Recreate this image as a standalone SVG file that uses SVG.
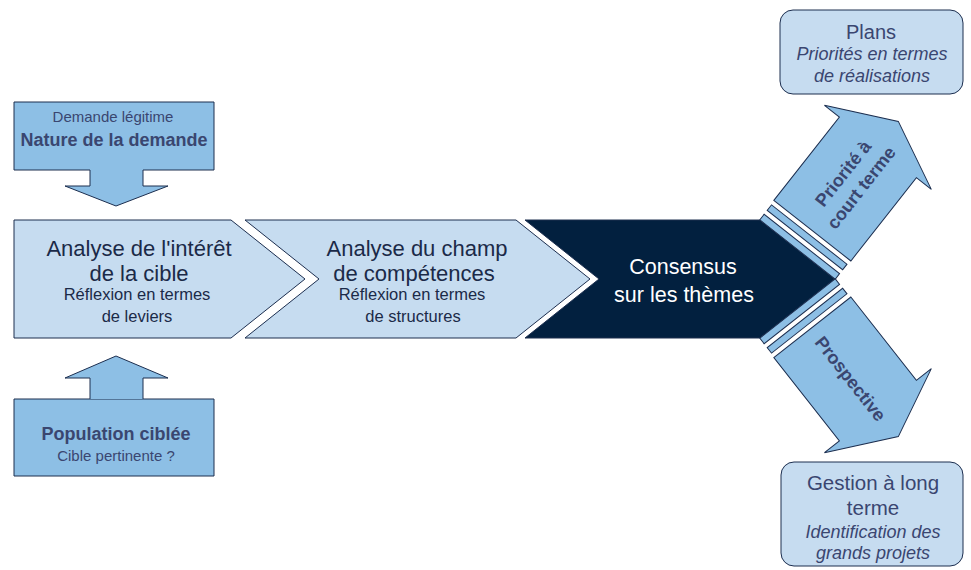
<svg xmlns="http://www.w3.org/2000/svg" width="971" height="570" viewBox="0 0 971 570">
<style>
.mid{fill:#8dbfe5;stroke:#1c2e4f;stroke-width:1}
.lite{fill:#c6dcf0;stroke:#1c2e4f;stroke-width:1}
.dark{fill:#02203f;stroke:#1c2e4f;stroke-width:1}
text{font-family:"Liberation Sans",Arial,sans-serif;text-anchor:middle}
.ct{fill:#3a4670}
.ch{fill:#1b2a48}
.w{fill:#ffffff}
.b{font-weight:bold}
.i{font-style:italic}
</style>
<rect width="971" height="570" fill="#ffffff"/>
<g id="demande">
<path class="mid" d="M14,102 H214 V170 H143 V186 H168 L116,206 L65,186 H90 V170 H14 Z"/>
<text class="ct" x="113" y="122" font-size="15">Demande légitime</text>
<text class="ct b" x="114" y="146" font-size="18">Nature de la demande</text>
</g>
<g id="population">
<path class="mid" d="M14,399 H214 V476 H14 Z"/>
<path class="mid" d="M90,399 V378 H65 L116,356 L168,378 H143 V399"/>
<text class="ct b" x="116" y="440" font-size="18">Population ciblée</text>
<text class="ct" x="116" y="461" font-size="15">Cible pertinente ?</text>
</g>
<g id="analyse-cible">
<polygon class="lite" points="14,220 231,220 305,279 231,338 14,338"/>
<text class="ch" x="139" y="256" font-size="22">Analyse de l'intérêt</text>
<text class="ch" x="139" y="281" font-size="22">de la cible</text>
<text class="ch" x="137" y="300" font-size="16.5">Réflexion en termes</text>
<text class="ch" x="137" y="322" font-size="16.5">de leviers</text>
</g>
<g id="analyse-competences">
<polygon class="lite" points="245,220 516,220 590,279 516,338 245,338 319,279"/>
<text class="ch" x="417" y="256" font-size="22">Analyse du champ</text>
<text class="ch" x="414" y="281" font-size="22">de compétences</text>
<text class="ch" x="412" y="300" font-size="16.5">Réflexion en termes</text>
<text class="ch" x="413" y="322" font-size="16.5">de structures</text>
</g>
<g id="consensus">
<polygon class="dark" points="525,220 760,220 835,279 760,338 525,338 599,279"/>
<text class="w" x="683" y="274" font-size="21.5">Consensus</text>
<text class="w" x="684" y="302" font-size="21.5">sur les thèmes</text>
</g>
<g id="connectors">
<g id="court-terme" transform="translate(797.5,249.5) rotate(-51.8)">
<rect class="mid" x="0" y="-48" width="7" height="96"/>
<rect class="mid" x="12" y="-48" width="7" height="96"/>
<polygon class="mid" points="24,-49 130,-49 130,-68 163,0 130,68 130,49 24,49"/>
<text class="ct b" x="88" y="-5" font-size="18">Priorité à</text>
<text class="ct b" x="88" y="18" font-size="18">court terme</text>
</g>
<g id="prospective" transform="translate(797.5,308.5) rotate(51.8)">
<rect class="mid" x="0" y="-48" width="7" height="96"/>
<rect class="mid" x="12" y="-48" width="7" height="96"/>
<polygon class="mid" points="24,-49 130,-49 130,-68 163,0 130,68 130,49 24,49"/>
<text class="ct b" x="88" y="8" font-size="18">Prospective</text>
</g>
</g>
<g id="plans">
<rect class="lite" x="780" y="10" width="183" height="84" rx="13"/>
<text class="ct" x="871" y="39" font-size="20">Plans</text>
<text class="ct i" x="872" y="60" font-size="18">Priorités en termes</text>
<text class="ct i" x="872" y="82" font-size="18">de réalisations</text>
</g>
<g id="gestion">
<rect class="lite" x="781" y="462" width="182" height="104" rx="13"/>
<text class="ct" x="873" y="490" font-size="20.5">Gestion à long</text>
<text class="ct" x="873" y="515" font-size="20.5">terme</text>
<text class="ct i" x="873" y="538" font-size="18">Identification des</text>
<text class="ct i" x="873" y="559" font-size="18">grands projets</text>
</g>
</svg>
